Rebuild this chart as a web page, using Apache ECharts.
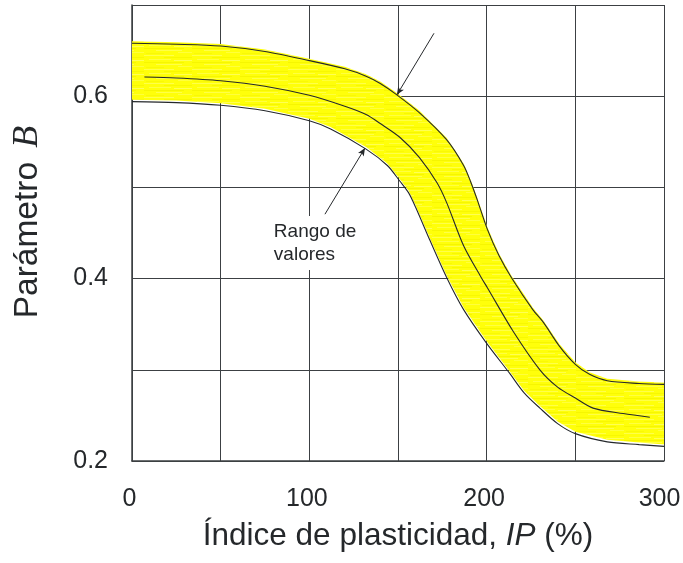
<!DOCTYPE html>
<html>
<head>
<meta charset="utf-8">
<script src="https://cdn.jsdelivr.net/npm/echarts@6/dist/echarts.min.js"></script>
<style>
html, body { margin: 0; padding: 0; background: #ffffff; }
#chart { width: 683px; height: 563px; }
</style>
</head>
<body>
<div id="chart"></div>
<script>
// Upper limit of the range of B against plasticity index IP (%)
const upperBound = [
  [0, 0.658], [25, 0.657], [50, 0.655], [75, 0.649], [100, 0.639], [120, 0.630],
  [132, 0.622], [140, 0.614], [149, 0.602], [162, 0.582], [177.5, 0.552], [187, 0.524],
  [191, 0.506], [194.4, 0.488], [200.4, 0.454], [207, 0.425], [214, 0.401], [226, 0.366],
  [232, 0.352], [241, 0.326], [250, 0.306], [258, 0.295], [268, 0.288], [286, 0.285],
  [300, 0.284]
];
// Central (mean) curve
const middleCurve = [
  [7, 0.621], [25, 0.620], [50, 0.617], [75, 0.611], [100, 0.601], [120, 0.589],
  [132, 0.580], [140, 0.570], [151, 0.555], [162, 0.533], [172, 0.505], [177.5, 0.483],
  [187, 0.436], [197, 0.401], [200.4, 0.390], [215, 0.342], [230, 0.300], [240, 0.281],
  [250, 0.269], [260, 0.258], [277, 0.252], [292, 0.248]
];
// Lower limit of the range
const lowerBound = [
  [0, 0.594], [25, 0.593], [50, 0.590], [75, 0.584], [100, 0.573], [112, 0.564],
  [132, 0.542], [144, 0.524], [151, 0.507], [156, 0.494], [160, 0.478], [168, 0.442],
  [177.5, 0.401], [187, 0.366], [200, 0.329], [213, 0.296], [221, 0.275], [230, 0.258],
  [240, 0.241], [250, 0.230], [268, 0.221], [286, 0.218], [300, 0.216]
];

const xTickLabels = [0, 100, 200, 300];
const yTickLabels = [0.2, 0.4, 0.6];

const noteLines = ['Rango de', 'valores'];
const noteAnchor = [80, 0.439];
const noteArrows = [
  [[170.3, 0.669], [149.4, 0.6015]],
  [[108.8, 0.4706], [131.4, 0.5432]]
];

// Highlighter-like yellow fill with faint horizontal streaks
function makeBandPattern() {
  const c = document.createElement('canvas');
  c.width = 48; c.height = 14;
  const g = c.getContext('2d');
  g.fillStyle = '#ffff0a';
  g.fillRect(0, 0, 48, 14);
  const streaks = [
    [0, 1, 30, '#ffff4a'], [20, 3, 28, '#f8f800'], [5, 5, 22, '#ffff40'],
    [30, 6, 18, '#ffff55'], [0, 8, 40, '#f6f600'], [12, 10, 26, '#ffff48'],
    [34, 12, 14, '#ffff3c'], [2, 13, 18, '#f9f905']
  ];
  streaks.forEach(([x, y, w, col]) => {
    g.fillStyle = col;
    g.fillRect(x, y, w, 1);
  });
  return { image: c, repeat: 'repeat' };
}

const FONT = '"Liberation Sans", Arial, Helvetica, sans-serif';
const SERIF = '"Liberation Serif", "Times New Roman", serif';
const INK = '#25282b';
const GRID_INK = '#3c4043';

const chart = echarts.init(document.getElementById('chart'), null, { renderer: 'canvas' });
const bandFill = makeBandPattern();

const isTick = (list, v) => list.some(t => Math.abs(t - v) < 1e-9);

const curveStyle = {
  type: 'line', smooth: 0.3, showSymbol: false, silent: true, z: 3,
  lineStyle: { color: INK, width: 1.1 }
};

chart.setOption({
  animation: false,
  backgroundColor: '#ffffff',
  grid: { left: 132, right: 19, top: 5, bottom: 102, containLabel: false, outerBoundsMode: 'none' },
  xAxis: {
    type: 'value', min: 0, max: 300, interval: 50,
    name: 'Índice de plasticidad, {i|IP} (%)',
    nameLocation: 'middle', nameGap: 59,
    nameTextStyle: {
      fontFamily: FONT, fontSize: 31.5, color: INK,
      rich: { i: { fontFamily: FONT, fontStyle: 'italic', fontSize: 31.5, color: INK } }
    },
    axisLine: { show: true, lineStyle: { color: GRID_INK, width: 1.5 } },
    axisTick: { show: false },
    axisLabel: {
      margin: 26, fontFamily: FONT, fontSize: 25, color: INK,
      formatter: v => {
        if (!isTick(xTickLabels, v)) return '';
        return v === xTickLabels[xTickLabels.length - 1] ? '{end|' + v + '}' : '{t|' + v + '}';
      },
      rich: {
        t: { fontFamily: FONT, fontSize: 25, color: INK, padding: [0, 5, 0, 0] },
        end: { fontFamily: FONT, fontSize: 25, color: INK, padding: [0, 9, 0, 0] }
      }
    },
    splitLine: { show: true, lineStyle: { color: GRID_INK, width: 1 } }
  },
  yAxis: {
    type: 'value', min: 0.2, max: 0.7, interval: 0.1,
    name: 'Parámetro {b|B}',
    nameLocation: 'middle', nameGap: 86, nameRotate: 90,
    nameTextStyle: {
      fontFamily: FONT, fontSize: 33.5, color: INK, padding: [0, 0, 0, 22],
      rich: { b: { fontFamily: SERIF, fontStyle: 'italic', fontSize: 36, color: INK, padding: [0, 0, 0, 5] } }
    },
    axisLine: { show: true, lineStyle: { color: GRID_INK, width: 1.5 } },
    axisTick: { show: false },
    axisLabel: {
      margin: 24, fontFamily: FONT, fontSize: 25, color: INK,
      formatter: v => isTick(yTickLabels, v) ? v.toFixed(1) : ''
    },
    splitLine: { show: true, lineStyle: { color: GRID_INK, width: 1 } }
  },
  series: [
    {
      // yellow band between the two limit curves
      type: 'custom',
      silent: true,
      z: 1,
      data: [[0, 0.2]],
      renderItem: (params, api) => {
        const pts = upperBound.map(p => api.coord(p))
          .concat(lowerBound.slice().reverse().map(p => api.coord(p)));
        return {
          type: 'polygon',
          y: -2,
          shape: { points: pts },
          style: { fill: bandFill, stroke: null }
        };
      }
    },
    Object.assign({ data: upperBound }, curveStyle),
    Object.assign({ data: middleCurve }, curveStyle),
    Object.assign({ data: lowerBound }, curveStyle, {
      markLine: {
        silent: true, animation: false,
        symbol: ['none', 'arrow'], symbolSize: [5, 8],
        label: { show: false },
        lineStyle: { color: INK, width: 1, type: 'solid' },
        data: noteArrows.map(([a, b]) => [{ coord: a }, { coord: b }])
      },
      markPoint: {
        silent: true, animation: false,
        symbol: 'rect', symbolSize: 0,
        data: [{
          coord: noteAnchor,
          label: {
            show: true, position: 'inside', align: 'left', verticalAlign: 'middle',
            formatter: noteLines.join('\n'),
            fontFamily: FONT, fontSize: 19, lineHeight: 23, color: INK,
            backgroundColor: '#ffffff', padding: [4, 2, 4, 0]
          }
        }]
      }
    })
  ]
});
</script>
</body>
</html>
